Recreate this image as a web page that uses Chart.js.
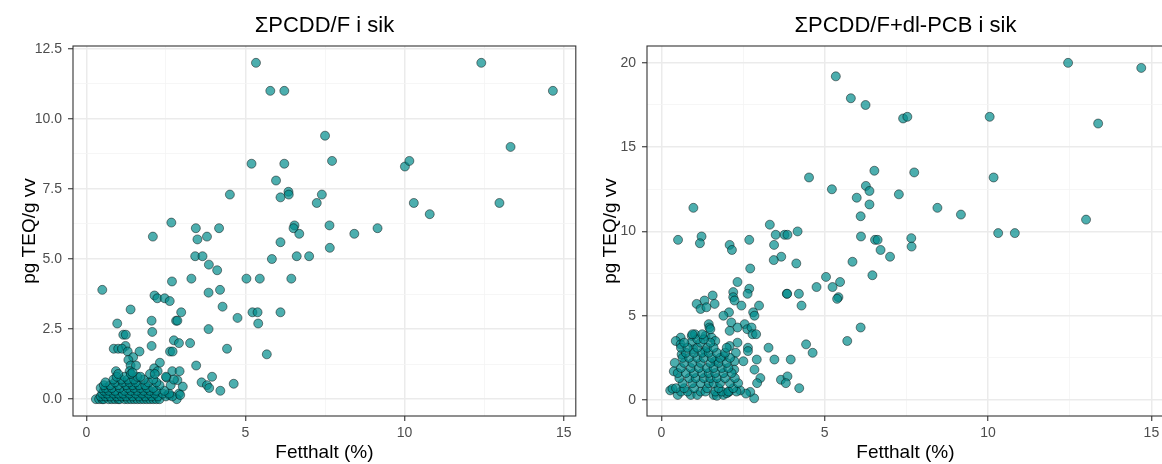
<!DOCTYPE html>
<html>
<head>
<meta charset="utf-8">
<script src="https://cdn.jsdelivr.net/npm/chart.js@4"></script>
<style>
  html, body { margin: 0; padding: 0; background: #fff; }
  #wrap { position: relative; width: 1162px; height: 464px; overflow: hidden; }
  canvas { position: absolute; top: 0; }
  #left { left: 0; }
  #right { left: 581px; }
</style>
</head>
<body>
<div id="wrap">
  <canvas id="left" width="581" height="464"></canvas>
  <canvas id="right" width="588" height="464"></canvas>
</div>
<script>
// fat content (%) and TEQ (pg/g ww) per sample, ΣPCDD/F
const pcddPoints = [
  [5.33,12.0],[12.41,12.0],[5.78,11.0],[6.22,11.0],[14.66,11.0],[7.50,9.4],[13.33,9.0],
  [5.19,8.4],[6.22,8.4],[7.72,8.5],[10.01,8.3],[10.15,8.5],[5.96,7.8],[4.51,7.3],
  [6.35,7.4],[6.36,7.3],[6.10,7.2],[7.40,7.3],[7.24,7.0],[10.29,7.0],[12.98,7.0],
  [10.79,6.6],[2.67,6.3],[3.44,6.1],[4.17,6.1],[6.54,6.2],[6.51,6.1],[7.64,6.2],
  [9.15,6.1],[2.09,5.8],[3.79,5.8],[3.49,5.7],[6.10,5.6],[6.69,5.9],[8.42,5.9],
  [7.65,5.4],[3.42,5.1],[3.65,5.1],[6.61,5.1],[7.00,5.1],[5.83,5.0],[3.85,4.8],
  [4.11,4.6],[3.30,4.3],[5.03,4.3],[5.45,4.3],[6.44,4.3],[2.69,4.2],[0.50,3.9],
  [4.20,3.9],[3.84,3.8],[2.14,3.7],[2.23,3.6],[2.46,3.6],[2.62,3.5],[4.28,3.3],
  [1.39,3.2],[2.98,3.1],[5.22,3.1],[5.38,3.1],[6.10,3.1],[4.75,2.9],[2.82,2.8],
  [2.86,2.8],[2.05,2.8],[0.97,2.7],[5.40,2.7],[2.07,2.4],[3.84,2.5],[1.16,2.3],
  [1.24,2.3],[2.75,2.1],[2.91,2.0],[3.26,2.0],[2.05,1.9],[1.23,1.9],[0.86,1.8],
  [1.00,1.8],[1.12,1.8],[1.67,1.7],[1.30,1.7],[2.63,1.7],[2.71,1.7],[4.42,1.8],
  [5.67,1.6],[1.47,1.5],[1.32,1.4],[2.31,1.3],[1.39,1.2],[1.56,1.2],[3.45,1.2],
  [2.70,1.0],[2.93,1.0],[0.93,1.0],[1.36,1.0],[2.13,1.1],[2.24,1.0],[3.95,0.8],
  [3.62,0.6],[4.63,0.55],[3.79,0.5],[3.86,0.4],[4.21,0.3],
  [2.91,0.2],[2.84,0.0],[2.61,0.14],[3.03,0.45],[2.86,0.68],[2.52,0.77],
  [0.30,0.0],[0.40,0.0],[0.50,0.0],[0.55,0.0],[0.70,0.0],[0.80,0.0],[0.90,0.0],
  [1.00,0.0],[1.05,0.0],[1.20,0.0],[1.30,0.0],[1.40,0.0],[1.50,0.0],[1.60,0.0],
  [1.70,0.0],[1.80,0.0],[1.90,0.0],[2.00,0.0],[2.10,0.0],[2.20,0.0],[2.30,0.0],
  [0.45,0.1],[0.60,0.1],[0.75,0.1],[0.95,0.1],[1.10,0.1],[1.25,0.1],[1.45,0.1],
  [1.65,0.1],[1.85,0.1],[2.05,0.1],[2.25,0.1],[2.50,0.1],[2.70,0.1],[2.95,0.15],
  [0.50,0.2],[0.65,0.2],[0.85,0.2],[1.00,0.2],[1.15,0.2],[1.35,0.2],[1.55,0.2],
  [1.75,0.2],[1.95,0.2],[2.15,0.2],[2.40,0.2],[2.60,0.2],
  [0.55,0.3],[0.70,0.3],[0.90,0.3],[1.20,0.3],[1.40,0.3],[1.60,0.3],[1.80,0.3],
  [2.00,0.3],[2.20,0.3],[2.45,0.3],
  [0.45,0.4],[0.60,0.4],[0.80,0.4],[1.05,0.4],[1.30,0.4],[1.50,0.4],[1.70,0.4],
  [1.90,0.4],[2.10,0.4],
  [0.55,0.5],[0.75,0.5],[1.00,0.5],[1.25,0.5],[1.45,0.5],[1.65,0.5],[1.85,0.5],
  [2.30,0.5],[2.65,0.5],
  [0.60,0.6],[0.90,0.6],[1.15,0.6],[1.35,0.6],[1.55,0.6],[1.95,0.6],[2.20,0.6],
  [0.85,0.7],[1.10,0.7],[1.30,0.7],[1.50,0.7],[1.80,0.7],[2.10,0.7],[2.75,0.7],
  [0.95,0.8],[1.20,0.8],[1.60,0.8],[1.70,0.8],[2.50,0.8],
  [1.00,0.9],[1.40,0.9],[2.00,0.9],[2.15,0.9],[1.45,0.95]
];

// fat content (%) and TEQ (pg/g ww) per sample, ΣPCDD/F+dl-PCB
const totalPoints = [
  [12.45,20.0],[5.34,19.2],[14.69,19.7],[5.80,17.9],[6.25,17.5],[7.40,16.7],[7.53,16.8],
  [10.05,16.8],[13.37,16.4],[6.52,13.6],[7.74,13.5],[4.52,13.2],[10.17,13.2],[5.22,12.5],
  [6.26,12.7],[6.37,12.4],[7.27,12.2],[5.98,12.0],[6.37,11.6],[0.98,11.4],[8.45,11.4],
  [9.17,11.0],[6.10,10.9],[13.00,10.7],[3.32,10.4],[4.17,10.0],[3.50,9.8],[3.77,9.8],
  [3.86,9.8],[10.31,9.9],[10.82,9.9],[1.23,9.7],[6.11,9.7],[0.51,9.5],[2.69,9.5],
  [6.54,9.5],[6.62,9.5],[7.65,9.6],[1.18,9.3],[2.09,9.2],[3.45,9.2],[7.66,9.1],
  [2.16,8.9],[6.71,8.9],[3.67,8.5],[7.00,8.5],[3.44,8.3],[5.85,8.2],[4.13,8.1],
  [2.72,7.8],[6.46,7.4],[5.04,7.3],[2.33,7.0],[5.47,7.0],[4.75,6.7],[5.24,6.7],
  [2.69,6.6],[2.64,6.3],[3.84,6.3],[3.85,6.3],[4.21,6.3],[2.20,6.4],[1.57,6.2],
  [2.20,6.1],[5.42,6.1],[5.38,6.0],[2.24,5.9],[1.32,5.9],[1.08,5.7],[1.63,5.7],
  [2.45,5.6],[2.99,5.6],[4.29,5.6],[1.20,5.4],[1.38,5.5],[2.81,5.2],[2.07,5.2],
  [2.85,5.0],[1.90,5.0],[2.14,4.6],[2.55,4.5],[1.45,4.5],[6.10,4.3],[1.47,4.3],
  [2.33,4.3],[2.63,4.2],[2.76,4.3],[2.09,4.1],[2.79,3.9],[2.90,3.9],[0.93,3.8],
  [1.03,3.9],[1.35,3.8],[1.54,3.7],[0.59,3.7],[1.65,3.5],[0.44,3.5],[0.92,3.4],
  [2.33,3.4],[5.69,3.5],[4.43,3.3],[0.59,3.3],[2.09,3.2],[3.28,3.1],[2.65,3.1],
  [2.65,2.9],[4.63,2.8],[2.28,2.8],[0.98,3.0],[1.34,2.9],[0.62,2.7],[1.91,2.6],
  [2.92,2.4],[3.46,2.4],[3.96,2.4],[2.51,2.3],[1.64,2.3],[0.41,2.2],[2.24,2.3],
  [2.85,1.8],[2.23,1.8],[0.38,1.7],[3.03,1.3],[2.93,1.0],[3.66,1.2],[3.86,1.4],
  [3.81,1.0],[4.22,0.7],[2.84,0.1],[2.72,0.48],[2.59,0.38],[0.27,0.57],[0.34,0.67],
  [2.41,0.57],[2.07,0.48],
  [0.50,0.3],[0.90,0.3],[1.10,0.3],[1.60,0.3],[1.70,0.25],[1.90,0.3],[2.00,0.4],
  [0.60,0.5],[0.80,0.5],[1.20,0.5],[1.35,0.5],[1.65,0.5],[1.85,0.5],[2.05,0.5],[2.30,0.5],
  [0.45,0.7],[0.70,0.7],[1.00,0.7],[1.40,0.7],[1.75,0.7],[2.20,0.7],
  [0.65,1.0],[0.95,1.0],[1.20,1.0],[1.45,1.0],[1.60,1.0],[1.80,1.0],[2.10,1.0],[2.35,1.0],
  [0.55,1.3],[0.85,1.3],[1.05,1.3],[1.30,1.3],[1.50,1.3],[1.70,1.3],[1.95,1.3],[2.25,1.3],
  [0.50,1.6],[0.75,1.6],[1.00,1.6],[1.25,1.6],[1.45,1.6],[1.65,1.6],[1.90,1.6],[2.15,1.6],
  [0.60,1.9],[0.90,1.9],[1.15,1.9],[1.40,1.9],[1.60,1.9],[1.85,1.9],[2.05,1.9],
  [0.70,2.2],[0.95,2.2],[1.20,2.2],[1.50,2.2],[1.75,2.2],[2.00,2.2],
  [0.65,2.5],[0.85,2.5],[1.10,2.5],[1.30,2.5],[1.55,2.5],[1.80,2.5],[2.10,2.5],
  [0.75,2.8],[1.00,2.8],[1.25,2.8],[1.45,2.8],[1.70,2.8],[1.95,2.8],
  [0.60,3.1],[0.80,3.1],[1.10,3.1],[1.40,3.1],[1.60,3.1],[2.00,3.1],
  [0.70,3.4],[1.20,3.4],[1.50,3.4],[1.10,3.6],[1.30,3.6],[0.95,3.9],[1.25,3.9],[1.50,4.2]
];

const fatTicks = [0, 2.5, 5, 7.5, 10, 12.5, 15];
const pcddTicks = [0, 1.25, 2.5, 3.75, 5, 6.25, 7.5, 8.75, 10, 11.25, 12.5];
const totalTicks = [0, 2.5, 5, 7.5, 10, 12.5, 15, 17.5, 20];

const FONT = '"Liberation Sans", Arial, sans-serif';

// plot title centred over the panel, panel frame drawn on top of the points
const panelDecor = {
  id: 'panelDecor',
  afterDatasetsDraw(chart) {
    const a = chart.chartArea;
    const c = chart.ctx;
    c.save();
    c.strokeStyle = '#333333';
    c.lineWidth = 1.1;
    c.strokeRect(a.left, a.top, a.right - a.left, a.bottom - a.top);
    c.restore();
  },
  afterDraw(chart, args, opts) {
    const a = chart.chartArea;
    const c = chart.ctx;
    c.save();
    c.fillStyle = '#000';
    c.font = '22px ' + FONT;
    c.textAlign = 'center';
    c.textBaseline = 'alphabetic';
    c.fillText(opts.text, (a.left + a.right) / 2, 31.5);
    c.restore();
  }
};

function gridScale(ticks, isMajor, label, pad) {
  return {
    type: 'linear',
    afterBuildTicks: s => { s.ticks = ticks.map(v => ({ value: v })); },
    border: { display: false },
    grid: {
      color: ctx => isMajor(ctx.tick.value) ? '#EBEBEB' : '#F4F4F4',
      lineWidth: ctx => isMajor(ctx.tick.value) ? 1.5 : 0.8,
      tickColor: ctx => isMajor(ctx.tick.value) ? '#333333' : 'rgba(0,0,0,0)',
      tickLength: 5,
      tickWidth: 1.1
    },
    ticks: {
      autoSkip: false,
      maxRotation: 0,
      color: '#4D4D4D',
      font: { family: FONT, size: 14 },
      padding: pad,
      callback: v => isMajor(v) ? label(v) : ''
    }
  };
}

function makePanel(id, title, points, yTicks, yMajor, yLabel, yMin, yMax, axisWidth, padRight, xMin) {
  const x = gridScale(fatTicks, v => v % 5 === 0, v => String(v), 4);
  x.min = xMin; x.max = 15.38;
  x.title = { display: true, text: 'Fetthalt (%)', color: '#000', font: { family: FONT, size: 19 }, padding: { top: 0, bottom: 0 } };
  x.afterFit = s => { s.height = 48; };

  const y = gridScale(yTicks, yMajor, yLabel, 6);
  y.min = yMin; y.max = yMax;
  y.title = { display: true, text: 'pg TEQ/g vv', color: '#000', font: { family: FONT, size: 19 }, padding: { top: 18, bottom: 0 } };
  y.afterFit = s => { s.width = axisWidth; };

  return new Chart(document.getElementById(id), {
    type: 'scatter',
    data: {
      datasets: [{
        data: points.map(p => ({ x: p[0], y: p[1] })),
        pointRadius: 4.5,
        pointHoverRadius: 4.5,
        pointBorderWidth: 0.7,
        pointBackgroundColor: 'rgba(0,139,139,0.7)',
        pointBorderColor: 'rgba(0,0,0,0.65)',
        clip: false
      }]
    },
    options: {
      responsive: false,
      animation: false,
      layout: { padding: { top: 46, right: padRight, bottom: 0, left: 0 } },
      scales: { x: x, y: y },
      plugins: {
        legend: { display: false },
        tooltip: { enabled: false },
        panelDecor: { text: title }
      }
    },
    plugins: [panelDecor]
  });
}

makePanel('left', 'ΣPCDD/F i sik', pcddPoints, pcddTicks,
  v => Math.abs(v / 2.5 - Math.round(v / 2.5)) < 1e-9, v => v.toFixed(1),
  -0.6, 12.6, 73, 3, -0.42);

makePanel('right', 'ΣPCDD/F+dl-PCB i sik', totalPoints, totalTicks,
  v => v % 5 === 0, v => String(v),
  -0.95, 21.0, 66, 4, -0.44);
</script>
</body>
</html>
